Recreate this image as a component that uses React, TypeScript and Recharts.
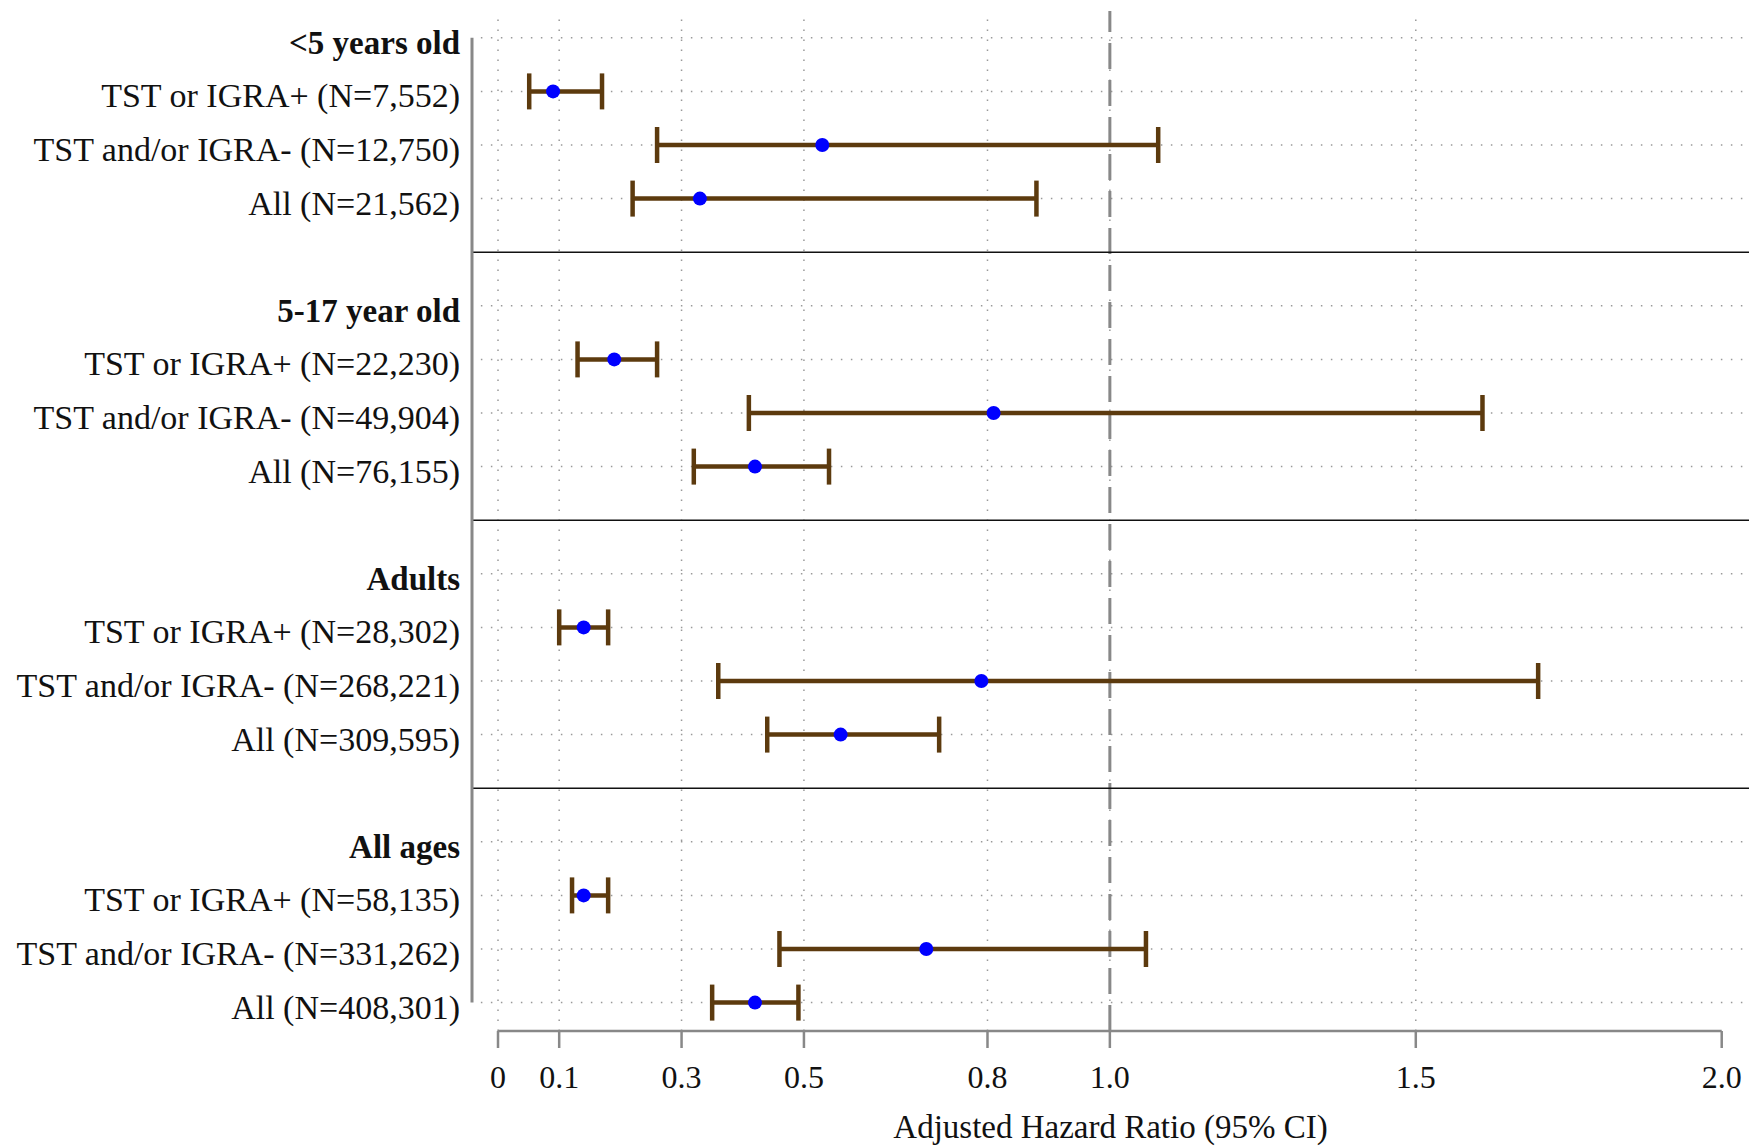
import React from 'react';
import { ScatterChart, Scatter, XAxis, YAxis, ReferenceLine, ErrorBar } from 'recharts';

// groups and their subgroup rows, top to bottom
const groupNames = ['<5 years old', '5-17 year old', 'Adults', 'All ages'];
const subgroupLabels = [
  ['TST or IGRA+ (N=7,552)', 'TST and/or IGRA- (N=12,750)', 'All (N=21,562)'],
  ['TST or IGRA+ (N=22,230)', 'TST and/or IGRA- (N=49,904)', 'All (N=76,155)'],
  ['TST or IGRA+ (N=28,302)', 'TST and/or IGRA- (N=268,221)', 'All (N=309,595)'],
  ['TST or IGRA+ (N=58,135)', 'TST and/or IGRA- (N=331,262)', 'All (N=408,301)'],
];
// adjusted hazard ratio and 95% CI
const hazardRatio = [
  [0.09, 0.53, 0.33],
  [0.19, 0.81, 0.42],
  [0.14, 0.79, 0.56],
  [0.14, 0.70, 0.42],
];
const ciLower = [
  [0.051, 0.26, 0.22],
  [0.13, 0.41, 0.32],
  [0.10, 0.36, 0.44],
  [0.121, 0.46, 0.35],
];
const ciUpper = [
  [0.17, 1.079, 0.88],
  [0.26, 1.609, 0.541],
  [0.18, 1.70, 0.721],
  [0.18, 1.059, 0.491],
];
const xTicks = [0, 0.1, 0.3, 0.5, 0.8, 1.0, 1.5, 2.0];
const gridX = [0, 0.1, 0.3, 0.5, 0.8, 1.0, 1.5];

const FONT = "'Liberation Serif', 'DejaVu Serif', serif";
const X_MIN = -0.0425;
const X_MAX = 2.0446;
const GRID_LEFT = -0.028;
const Y_MIN = -0.5;
const Y_MAX = 18.53;
const ROWS_PER_GROUP = 5;

// row index -> label
const rowLabels: Record<number, { text: string; bold: boolean }> = {};
const labelRows: number[] = [];
const separatorRows: number[] = [];
const points: { hr: number; row: number; err: [number, number] }[] = [];

groupNames.forEach((g, gi) => {
  const base = gi * ROWS_PER_GROUP;
  rowLabels[base] = { text: g, bold: true };
  labelRows.push(base);
  subgroupLabels[gi].forEach((lab, si) => {
    const r = base + 1 + si;
    rowLabels[r] = { text: lab, bold: false };
    labelRows.push(r);
    const hr = hazardRatio[gi][si];
    points.push({ hr, row: r, err: [hr - ciLower[gi][si], ciUpper[gi][si] - hr] });
  });
  if (gi < groupNames.length - 1) separatorRows.push(base + 4);
});

const lastRow = labelRows[labelRows.length - 1];

const YTick = (props: any) => {
  const { x, y, payload } = props;
  const lab = rowLabels[payload.value];
  if (!lab) return null;
  return (
    <text x={x} y={y} dy={16} textAnchor="end" fontFamily={FONT} fontSize={lab.bold ? 33 : 34}
      fontWeight={lab.bold ? 'bold' : 'normal'} fill="#111">
      {lab.text}
    </text>
  );
};

const XTick = (props: any) => {
  const { x, y, payload } = props;
  const v = payload.value;
  return (
    <text x={x} y={y} dy={40} textAnchor="middle" fontFamily={FONT} fontSize={32} fill="#111">
      {v === 0 ? '0' : v.toFixed(1)}
    </text>
  );
};

const AxisTitle = (props: any) => {
  const { viewBox } = props;
  if (!viewBox) return null;
  return (
    <text x={viewBox.x + viewBox.width / 2} y={viewBox.y + 107} textAnchor="middle"
      fontFamily={FONT} fontSize={33} fill="#111">
      Adjusted Hazard Ratio (95% CI)
    </text>
  );
};

const Dot = (props: any) => <circle cx={props.cx} cy={props.cy} r={7} fill="#0000ff" />;

export default function App() {
  return (
    <div style={{ width: 1752, height: 1147, background: '#fff' }}>
      <style>{'body{margin:0}'}</style>
      <ScatterChart width={1752} height={1147} margin={{ top: 11, right: 3, bottom: 0, left: 0 }}>
        {labelRows.map((r) => (
          <ReferenceLine key={'h' + r} segment={[{ x: GRID_LEFT, y: r }, { x: X_MAX, y: r }]}
            stroke="#999" strokeWidth={1.5} strokeDasharray="1.5 8.5" />
        ))}
        {gridX.map((v) => (
          <ReferenceLine key={'g' + v} x={v} stroke="#999" strokeWidth={1.5} strokeDasharray="1.5 8.5" />
        ))}
        <ReferenceLine x={1} stroke="#888" strokeWidth={3} strokeDasharray="26 11" />
        {separatorRows.map((r) => (
          <ReferenceLine key={'s' + r} y={r} stroke="#111" strokeWidth={1.5} />
        ))}
        <ReferenceLine segment={[{ x: X_MIN, y: 0 }, { x: X_MIN, y: lastRow }]} stroke="#888" strokeWidth={3} />
        <ReferenceLine segment={[{ x: 0, y: Y_MAX }, { x: 2, y: Y_MAX }]} stroke="#888" strokeWidth={2.5} />
        <XAxis
          type="number"
          dataKey="hr"
          domain={[X_MIN, X_MAX]}
          allowDataOverflow
          ticks={xTicks}
          interval={0}
          height={116}
          axisLine={false}
          tickLine={{ stroke: '#888', strokeWidth: 2.5 }}
          tickSize={17}
          tickMargin={0}
          tick={<XTick />}
          label={<AxisTitle />}
        />
        <YAxis
          type="number"
          dataKey="row"
          domain={[Y_MIN, Y_MAX]}
          allowDataOverflow
          reversed
          ticks={labelRows}
          interval={0}
          width={472}
          axisLine={false}
          tickLine={false}
          tickSize={0}
          tickMargin={12}
          tick={<YTick />}
        />
        <Scatter data={points} shape={<Dot />} isAnimationActive={false}>
          <ErrorBar dataKey="err" direction="x" stroke="#5c3a0e" strokeWidth={4.5} width={18} isAnimationActive={false} />
        </Scatter>
      </ScatterChart>
    </div>
  );
}
